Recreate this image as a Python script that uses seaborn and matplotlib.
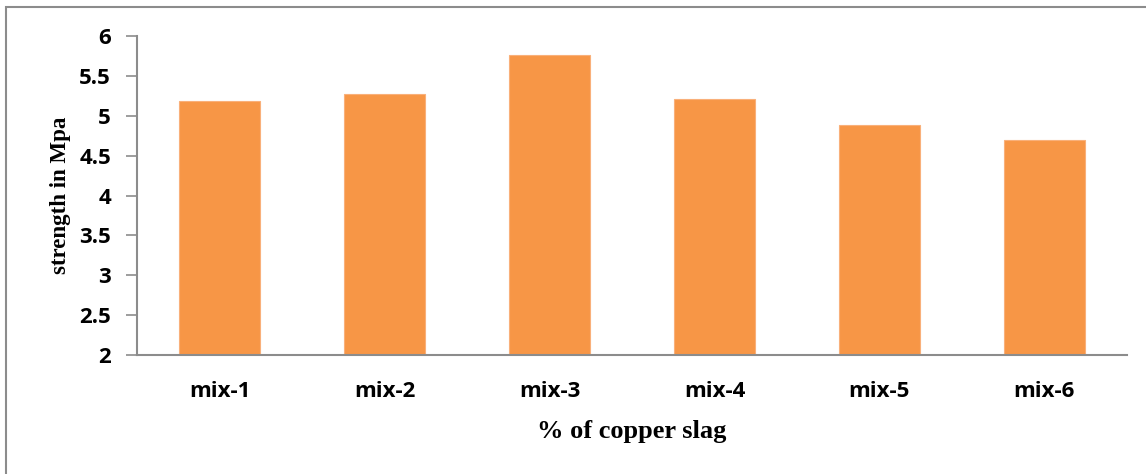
import matplotlib
matplotlib.use("Agg")
import matplotlib.pyplot as plt
import seaborn as sns
import pandas as pd
from matplotlib.patches import Rectangle

# Split tensile strength of the mixes
mixes = ["mix-1", "mix-2", "mix-3", "mix-4", "mix-5", "mix-6"]
strength = [5.19, 5.27, 5.76, 5.21, 4.88, 4.69]
y_ticks = [2, 2.5, 3, 3.5, 4, 4.5, 5, 5.5, 6]
y_tick_labels = ["2", "2.5", "3", "3.5", "4", "4.5", "5", "5.5", "6"]

df = pd.DataFrame({"mix": mixes, "strength": strength})

sns.set_theme(style="white")
plt.rcParams["font.family"] = ["Open Sans", "DejaVu Sans"]

fig = plt.figure(figsize=(11.46, 4.74), dpi=100)
ax = fig.add_axes([0.1198, 0.2511, 0.8634, 0.6729])

sns.barplot(data=df, x="mix", y="strength", color="#F79646", saturation=1,
            width=0.49, edgecolor="#F9B07A", linewidth=0.8, ax=ax)

ax.set_ylim(2, 6)
ax.set_xlim(-0.5, len(mixes) - 0.5)
ax.set_yticks(y_ticks)
ax.set_yticklabels(y_tick_labels, fontsize=16, fontweight="bold", color="black")
ax.set_xticks(range(len(mixes)))
ax.set_xticklabels(mixes, fontsize=16, fontweight="bold", color="black")

ax.tick_params(axis="y", which="major", direction="out", length=8, width=1.2,
               color="#8C8C8C", left=True, pad=11)
ax.tick_params(axis="x", which="major", length=0, pad=19)

for side in ["top", "right"]:
    ax.spines[side].set_visible(False)
for side in ["left", "bottom"]:
    ax.spines[side].set_color("#8C8C8C")
    ax.spines[side].set_linewidth(1.5)

ax.set_xlabel("% of copper slag", family="Liberation Serif", fontsize=19,
              fontweight="bold", labelpad=13, color="black")
ax.set_ylabel("strength in Mpa", family="Liberation Serif", fontsize=16.5,
              fontweight="bold", labelpad=6, color="black")

# Chart border
fig.patches.append(Rectangle((6 / 1146, -0.1), 1.2, 1 - 7 / 474 + 0.1,
                             transform=fig.transFigure, fill=False,
                             edgecolor="#8C8C8C", linewidth=1.5))

fig.savefig("out.png", dpi=100)
